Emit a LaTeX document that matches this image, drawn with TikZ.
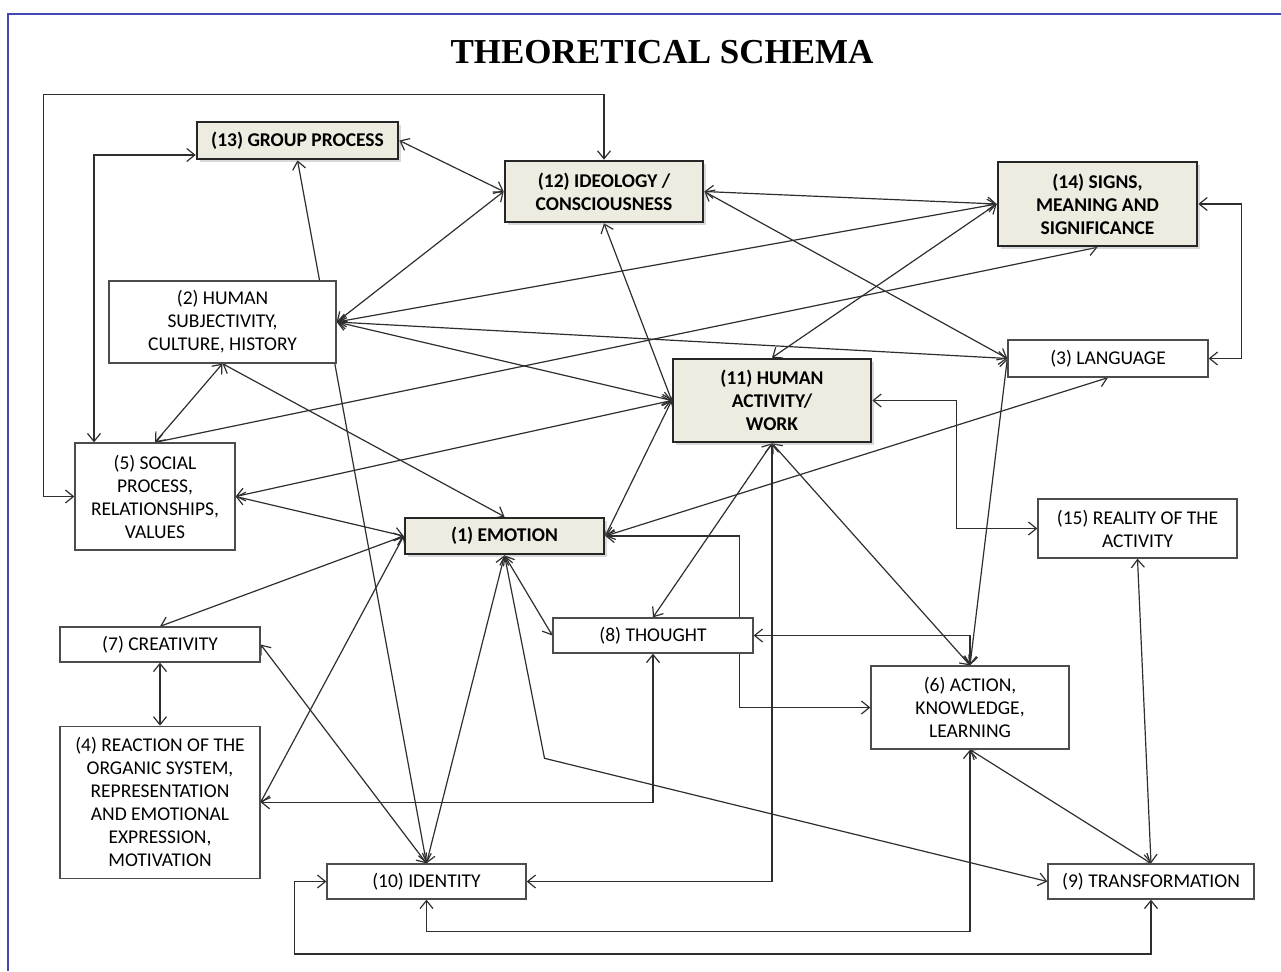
\documentclass[tikz,border=0pt]{standalone}
\usepackage{fontspec}
\setmainfont{Carlito}
\newfontfamily\titlefont{Liberation Serif}
\usepackage{xcolor}
\usepackage{tikz}
\usetikzlibrary{arrows.meta,positioning,backgrounds,calc,shadows}

\definecolor{boxfill}{HTML}{EEECE1}
\definecolor{framecol}{RGB}{64,72,180}
\definecolor{linecol}{HTML}{2E2E2E}
\newcommand\schemafont{\fontsize{19.5}{23}\selectfont}

\begin{document}
\begin{tikzpicture}[
  x=1pt,y=-1pt,
  font=\schemafont,
  plain/.style={rectangle,draw=black!70,line width=1.3pt,fill=white,
                align=center,inner sep=2pt},
  key/.style={plain,draw=black!85,line width=2.6pt,fill=boxfill,
              font=\schemafont\bfseries,
              drop shadow={shadow xshift=3pt,shadow yshift=-3pt,opacity=0.3}},
  link/.style={{Straight Barb[length=8pt,width=13pt]}-{Straight Barb[length=8pt,width=13pt]},
               draw=linecol,line width=1.2pt},
  heading/.style={font=\titlefont\bfseries\fontsize{35}{40}\selectfont}
]
\useasboundingbox (0,0) rectangle (1281,971);
\draw[framecol,line width=1.3pt] (1281,14) -- (8,14) -- (8,971);

\node[heading] (head) at (662,52) {THEORETICAL SCHEMA};

% ===================== key concepts (shaded) =====================
\node[key,minimum width=201pt,minimum height=37pt] (grp) at (297.5,140.5) {(13) GROUP PROCESS};
\node[key,minimum width=198pt,minimum height=61pt] (ideo) at (604,191.5) {(12) IDEOLOGY /\\CONSCIOUSNESS};
\node[key,minimum width=199pt,minimum height=84pt] (signs) at (1097.5,204) {(14) SIGNS,\\MEANING AND\\SIGNIFICANCE};
\node[key,minimum width=198pt,minimum height=83pt] (work) at (772,400.5) {(11) HUMAN\\ACTIVITY/\\WORK};
\node[key,minimum width=199pt,minimum height=36pt] (emo) at (504.5,536) {(1) EMOTION};

% ===================== plain concepts =====================
\node[plain,minimum width=227pt,minimum height=82pt] (subj) at (222.5,322) {(2) HUMAN\\SUBJECTIVITY,\\CULTURE, HISTORY};
\node[plain,minimum width=200pt,minimum height=37pt] (lang) at (1108,358.5) {(3) LANGUAGE};
\node[plain,minimum width=160pt,minimum height=107pt] (social) at (155,496.5) {(5) SOCIAL\\PROCESS,\\RELATIONSHIPS,\\VALUES};
\node[plain,minimum width=199pt,minimum height=59pt] (real) at (1137.5,528.5) {(15) REALITY OF THE\\ACTIVITY};
\node[plain,minimum width=200pt,minimum height=35pt] (crea) at (160,644.5) {(7) CREATIVITY};
\node[plain,minimum width=200pt,minimum height=152pt,below=63pt of crea] (react)
  {(4) REACTION OF THE\\ORGANIC SYSTEM,\\REPRESENTATION\\AND EMOTIONAL\\EXPRESSION,\\MOTIVATION};
\node[plain,minimum width=200pt,minimum height=35pt] (thought) at (653,635.5) {(8) THOUGHT};
\node[plain,minimum width=198pt,minimum height=83pt] (action) at (970,707.5) {(6) ACTION,\\KNOWLEDGE,\\LEARNING};
\node[plain,minimum width=199pt,minimum height=35pt] (ident) at (426.5,881.5) {(10) IDENTITY};
\node[plain,minimum width=206pt,minimum height=35pt] (trans) at (1151,881.5) {(9) TRANSFORMATION};

% ===================== edges =====================
\begin{scope}[on background layer]
  % outer loops on the left
  \draw[link] (ideo.north) -- ++(0,-65) -| ($(social.west)+(-31,0)$) -- (social.west);
  \draw[link] ($(grp.west)+(0,14.5)$) -| ($(social.north)+(-61,0)$);
  % group process
  \draw[link] (grp.east) -- (ideo.west);
  \draw[link] (grp.south) -- (ident.north);
  % subjectivity
  \draw[link] (subj.east) -- (ideo.west);
  \draw[link] (subj.east) -- (signs.west);
  \draw[link] (subj.east) -- (lang.west);
  \draw[link] (subj.east) -- (work.west);
  \draw[link] (subj.south) -- (social.north);
  \draw[link] (subj.south) -- (emo.north);
  % ideology, signs, language
  \draw[link] (ideo.east) -- (signs.west);
  \draw[link] (ideo.east) -- (lang.west);
  \draw[link] (ideo.south) -- (work.west);
  \draw[link] (signs.east) -- ++(43,0) |- (lang.east);
  \draw[link] (social.north) -- (signs.south);
  % human activity
  \draw[link] (work.north) -- (signs.west);
  \draw[link] (social.east) -- (work.west);
  \draw[link] (work.west) -- (emo.east);
  \draw[link] (work.east) -- ++(84,0) |- (real.west);
  \draw[link] (work.south) -- (action.north);
  \draw[link] (work.south) -- (thought.north);
  \draw[link] (work.south) |- (ident.east);
  \draw[link] (lang.west) -- (action.north);
  % emotion
  \draw[link] (social.east) -- (emo.west);
  \draw[link] (lang.south) -- (emo.east);
  \draw[link] (emo.east) -- ++(134,0) |- (action.west);
  \draw[link] (emo.west) -- (crea.north);
  \draw[link] (emo.west) -- (react.east);
  \draw[link] (emo.south) -- (ident.north);
  \draw[link] (emo.south) -- (thought.west);
  \draw[link] (emo.south) -- ($(emo.south)+(40,203)$) -- (trans.west);
  % thought, creativity
  \draw[link] (thought.east) -| (action.north);
  \draw[link] (thought.south) |- (react.east);
  \draw[link] (crea.south) -- (react.north);
  \draw[link] (crea.east) -- (ident.north);
  % bottom row
  \draw[link] (real.south) -- (trans.north);
  \draw[link] (action.south) -- (trans.north);
  \draw[link] (ident.south) -- ++(0,32) -| (action.south);
  \draw[link] (ident.west) -- ++(-32,0) -- ++(0,72.5) -| (trans.south);
\end{scope}

\end{tikzpicture}
\end{document}
